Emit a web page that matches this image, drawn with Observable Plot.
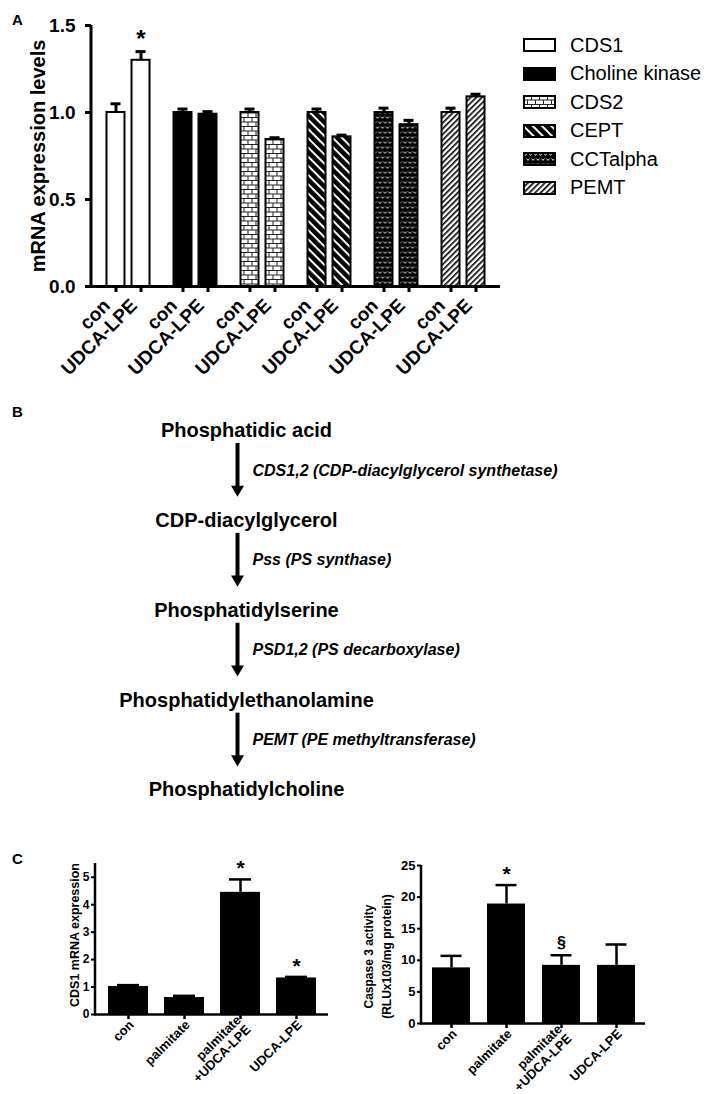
<!DOCTYPE html>
<html><head><meta charset="utf-8">
<script src="https://cdn.jsdelivr.net/npm/d3@7"></script>
<script src="https://cdn.jsdelivr.net/npm/@observablehq/plot@0.6"></script>
<style>
body{margin:0;background:#fff;}
#page{position:relative;width:715px;height:1094px;background:#fff;font-family:"Liberation Sans",Arial,Helvetica,sans-serif;color:#000;overflow:hidden}
.box{position:absolute}
.plabel{position:absolute;font-weight:bold;font-size:15px;line-height:15px}
#legend .row{display:flex;align-items:center;height:28.5px}
#legend .row span{margin-left:14px;font-size:20px;white-space:nowrap}
</style></head><body>
<svg width="0" height="0" style="position:absolute">
<defs>
<pattern id="pat-brick" patternUnits="userSpaceOnUse" width="8" height="9">
 <rect width="8" height="9" fill="#fff"/>
 <path d="M0,0.5H8M0,5H8M0.5,0.5V5M4.5,5V9" stroke="#222" stroke-width="1" fill="none"/>
</pattern>
<pattern id="pat-cept" patternUnits="userSpaceOnUse" width="8" height="6.5" patternTransform="rotate(45)">
 <rect width="8" height="6.5" fill="#000"/><rect width="8" height="2" fill="#fff"/>
</pattern>
<pattern id="pat-cct" patternUnits="userSpaceOnUse" width="5" height="10">
 <rect width="5" height="10" fill="#000"/>
 <path d="M1,1.6L2.5,3.4L4,1.6M-1.5,6.6L0,8.4L1.5,6.6M3.5,6.6L5,8.4L6.5,6.6" stroke="#fff" stroke-width="0.9" fill="none"/>
</pattern>
<pattern id="pat-pemt" patternUnits="userSpaceOnUse" width="8" height="4" patternTransform="rotate(-45)">
 <rect width="8" height="4" fill="#fff"/><rect width="8" height="1.6" fill="#000"/>
</pattern>
</defs></svg>
<div id="page"></div>
<script>
// ---------- Panel A data ----------
const genes = ["CDS1", "Choline kinase", "CDS2", "CEPT", "CCTalpha", "PEMT"];
const treatments = ["con", "UDCA-LPE"];
const conMean = [1.00, 1.00, 1.00, 1.00, 1.00, 1.00];
const conErr = [0.05, 0.02, 0.02, 0.02, 0.025, 0.025];
const udcaMean = [1.30, 0.99, 0.845, 0.86, 0.93, 1.09];
const udcaErr = [0.05, 0.015, 0.01, 0.01, 0.025, 0.015];
const udcaSig = ["*", "", "", "", "", ""];
const yTicksA = [0, 0.5, 1.0, 1.5];
const yLabelA = "mRNA expression levels";

// ---------- Panel B data ----------
const nodes = ["Phosphatidic acid", "CDP-diacylglycerol", "Phosphatidylserine", "Phosphatidylethanolamine", "Phosphatidylcholine"];
const enzymes = ["CDS1,2 (CDP-diacylglycerol synthetase)", "Pss (PS synthase)", "PSD1,2 (PS decarboxylase)", "PEMT (PE methyltransferase)"];

// ---------- Panel C data ----------
const groupsC = ["con", "palmitate", "palmitate\n+UDCA-LPE", "UDCA-LPE"];
const cds1Mean = [1.02, 0.62, 4.45, 1.33];
const cds1Err = [0.05, 0.06, 0.47, 0.04];
const cds1Sig = ["", "", "*", "*"];
const cds1Ticks = [0, 1, 2, 3, 4, 5];
const cds1Label = "CDS1 mRNA expression";
const caspMean = [8.8, 18.9, 9.2, 9.2];
const caspErr = [1.9, 3.0, 1.6, 3.3];
const caspSig = ["", "*", "§", ""];
const caspTicks = [0, 5, 10, 15, 20, 25];
const caspLabel = "Caspase 3 activity\n(RLUx103/mg protein)";

// ---------- styles ----------
const patterns = ["#fff", "#000", "url(#pat-brick)", "url(#pat-cept)", "url(#pat-cct)", "url(#pat-pemt)"];
const FONT = '"Liberation Sans", Arial, Helvetica, sans-serif';
const page = document.getElementById("page");
function place(node, left, top, width) {
  const d = document.createElement("div");
  d.className = "box";
  d.style.left = left + "px"; d.style.top = top + "px";
  if (width) d.style.width = width + "px";
  d.appendChild(node); page.appendChild(d); return d;
}
function label(t, left, top) {
  const d = document.createElement("div"); d.className = "plabel"; d.textContent = t;
  d.style.left = left + "px"; d.style.top = top + "px"; page.appendChild(d);
}
const yLine = (sw) => (index, scales, values, dims) => {
  const l = document.createElementNS("http://www.w3.org/2000/svg", "line");
  l.setAttribute("x1", dims.marginLeft); l.setAttribute("x2", dims.marginLeft);
  l.setAttribute("y1", dims.marginTop); l.setAttribute("y2", dims.height - dims.marginBottom + sw / 2);
  l.setAttribute("stroke", "#000"); l.setAttribute("stroke-width", sw);
  return l;
};

// ---------- Panel A ----------
const rowsCon = genes.map((g, i) => ({gene: g, mean: conMean[i], err: conErr[i]}));
const rowsUdca = genes.map((g, i) => ({gene: g, mean: udcaMean[i], err: udcaErr[i], sig: udcaSig[i]}));
const OFF = 12.5;
const barSet = (rows, dx) => [
  Plot.barY(rows, {x: "gene", y: "mean", fill: "gene", stroke: "#000", strokeWidth: 2, dx}),
  Plot.ruleX(rows, {x: "gene", y1: "mean", y2: d => d.mean + d.err, stroke: "#000", strokeWidth: 3, dx}),
  Plot.tickY(rows, {x: "gene", y: d => d.mean + d.err, stroke: "#000", strokeWidth: 3, insetLeft: 4, insetRight: 4, dx})
];
const plotA = Plot.plot({
  width: 505, height: 390,
  marginLeft: 91, marginRight: 5, marginTop: 25, marginBottom: 104,
  style: {fontFamily: FONT, fontWeight: "bold", background: "transparent", overflow: "visible"},
  x: {type: "band", domain: genes, paddingInner: 0.726, paddingOuter: 0.388},
  y: {domain: [0, 1.5]},
  color: {type: "ordinal", domain: genes, range: patterns},
  marks: [
    ...barSet(rowsCon, -OFF),
    ...barSet(rowsUdca, OFF),
    Plot.text(rowsUdca.filter(d => d.sig), {x: "gene", y: d => d.mean + d.err, text: "sig", dx: OFF, dy: -12, fontSize: 24, fontWeight: "bold"}),
    Plot.ruleY([0], {stroke: "#000", strokeWidth: 3, insetLeft: -3}),
    yLine(3),
    Plot.axisY({ticks: yTicksA, tickFormat: d3.format(".1f"), tickSize: 6, tickPadding: 10, strokeWidth: 3, fontSize: 19, fontWeight: "bold", label: null}),
    Plot.text([yLabelA], {frameAnchor: "left", textAnchor: "middle", rotate: -90, dx: -53, fontSize: 20, fontWeight: "bold"}),
    Plot.axisX({tickSize: 6, strokeWidth: 3, tickFormat: () => "", label: null, dx: -OFF}),
    Plot.axisX({tickSize: 6, strokeWidth: 3, tickFormat: () => "", label: null, dx: OFF}),
    Plot.axisX({tickSize: 0, tickPadding: 16, tickRotate: -45, tickFormat: () => treatments[0], fontSize: 19, fontWeight: "bold", label: null, dx: -OFF - 9}),
    Plot.axisX({tickSize: 0, tickPadding: 16, tickRotate: -45, tickFormat: () => treatments[1], fontSize: 19, fontWeight: "bold", label: null, dx: OFF - 7})
  ]
});
place(plotA, 0, 0, 505);
label("A", 12, 12);

// legend
const legend = document.createElement("div");
legend.id = "legend";
genes.forEach((g, i) => {
  const row = document.createElement("div"); row.className = "row";
  row.innerHTML = `<svg width="33" height="14"><rect x="1" y="1" width="31" height="12" fill="${patterns[i]}" stroke="#000" stroke-width="2"/></svg><span>${g}</span>`;
  legend.appendChild(row);
});
place(legend, 523, 31, 190);

// ---------- Panel B ----------
const nodeRows = nodes.map((n, i) => ({name: n, step: i}));
const stepRows = enzymes.map((e, i) => ({enzyme: e, from: i, to: i + 1, mid: i + 0.5}));
const PATH = () => "path";
const plotB = Plot.plot({
  width: 715, height: 430,
  marginLeft: 0, marginRight: 223, marginTop: 40, marginBottom: 30.5,
  style: {fontFamily: FONT, background: "transparent", overflow: "visible"},
  x: {type: "point", domain: ["path"], axis: null},
  y: {domain: [0, nodes.length - 1], reverse: true, axis: null},
  marks: [
    Plot.text(nodeRows, {x: PATH, y: "step", text: "name", fontSize: 20, fontWeight: "bold", fill: "#000"}),
    Plot.ruleX(stepRows, {x: PATH, y1: "from", y2: "to", insetTop: 13, insetBottom: 32, stroke: "#000", strokeWidth: 4, dx: -9}),
    Plot.dot(stepRows, {x: PATH, y: "to", symbol: "triangle", rotate: 180, r: 4.8, fill: "#000", stroke: "none", dx: -9, dy: -31}),
    Plot.text(stepRows, {x: PATH, y: "mid", text: "enzyme", textAnchor: "start", dx: 6, dy: -5, fontSize: 16, fontWeight: "bold", fontStyle: "italic", fill: "#000"})
  ]
});
place(plotB, 0, 390, 715);
label("B", 12, 404);

// ---------- Panel C ----------
function barPanel({means, errs, sigs, ticks, ylabel, width, mL, mR, mT, mB, pi, po, ymax, capInset, tickFont, labelDx, labelDy, labelFont, lineHeight}) {
  const rows = groupsC.map((g, i) => ({g, mean: means[i], err: errs[i], sig: sigs[i]}));
  return Plot.plot({
    width, height: 244,
    marginLeft: mL, marginRight: mR, marginTop: mT, marginBottom: mB,
    style: {fontFamily: FONT, fontWeight: "bold", background: "transparent", overflow: "visible"},
    x: {type: "band", domain: groupsC, paddingInner: pi, paddingOuter: po},
    y: {domain: [0, ymax]},
    marks: [
      Plot.barY(rows, {x: "g", y: "mean", fill: "#000"}),
      Plot.ruleX(rows, {x: "g", y1: "mean", y2: d => d.mean + d.err, stroke: "#000", strokeWidth: 2.5}),
      Plot.tickY(rows, {x: "g", y: d => d.mean + d.err, stroke: "#000", strokeWidth: 2.5, insetLeft: capInset, insetRight: capInset}),
      Plot.text(rows.filter(d => d.sig === "*"), {x: "g", y: d => d.mean + d.err, text: "sig", dy: -11, fontSize: 21, fontWeight: "bold"}),
      Plot.text(rows.filter(d => d.sig === "§"), {x: "g", y: d => d.mean + d.err, text: "sig", dy: -12, fontSize: 16, fontWeight: "bold"}),
      Plot.ruleY([0], {stroke: "#000", strokeWidth: 2.5, insetLeft: -1}),
      yLine(2.5),
      Plot.axisY({ticks, tickFormat: d3.format("d"), tickSize: 4, tickPadding: 2, strokeWidth: 2, fontSize: tickFont, fontWeight: "bold", label: null}),
      Plot.text([ylabel], {frameAnchor: "left", textAnchor: "middle", rotate: -90, dx: labelDx, dy: labelDy, fontSize: labelFont, fontWeight: "bold", lineHeight}),
      Plot.axisX({tickSize: 5, strokeWidth: 2.5, tickFormat: () => "", label: null}),
      Plot.axisX({tickSize: 0, tickPadding: 8, tickRotate: -45, textAnchor: "end", lineAnchor: "middle", lineHeight: 1.05, dx: 3, fontSize: 13, fontWeight: "bold", label: null})
    ]
  });
}
const plotC1 = barPanel({means: cds1Mean, errs: cds1Err, sigs: cds1Sig, ticks: cds1Ticks, ylabel: cds1Label,
  width: 330, mL: 95, mR: 2, mT: 13, mB: 80, pi: 0.29, po: 0.213, ymax: 5.5, capInset: 9,
  tickFont: 12, labelDx: -21, labelDy: -4, labelFont: 12.5, lineHeight: 1});
place(plotC1, 0, 850, 330);
const plotC2 = barPanel({means: caspMean, errs: caspErr, sigs: caspSig, ticks: caspTicks, ylabel: caspLabel,
  width: 310, mL: 81, mR: 5, mT: 15, mB: 71, pi: 0.313, po: 0.18, ymax: 25, capInset: 8.5,
  tickFont: 13, labelDx: -45, labelDy: 12, labelFont: 12, lineHeight: 1.5});
place(plotC2, 340, 850, 310);
label("C", 12, 851);
</script>
</body></html>
